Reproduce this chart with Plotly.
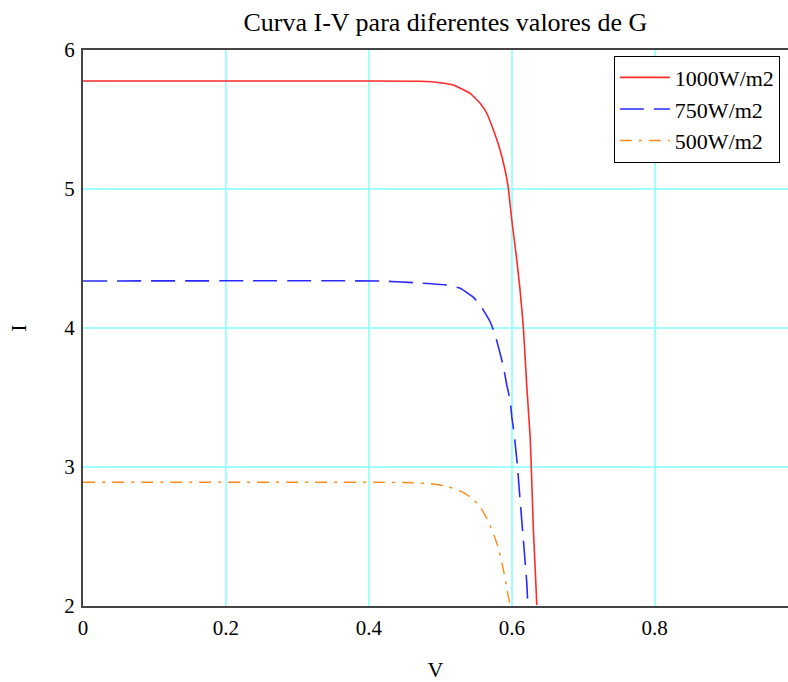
import plotly.graph_objects as go

# Curve readings (V in volts, I in amps)
v_1000 = [0.0, 0.40, 0.4717, 0.4997, 0.5183, 0.5417, 0.5557, 0.5650, 0.5743, 0.5836,
          0.5906, 0.5952, 0.6000, 0.6070, 0.6116, 0.6162, 0.6210, 0.6258, 0.6285,
          0.6302, 0.6326, 0.6350]
i_1000 = [5.777, 5.777, 5.775, 5.765, 5.748, 5.688, 5.617, 5.545, 5.424, 5.281,
          5.137, 5.005, 4.777, 4.489, 4.273, 4.002, 3.578, 3.206, 2.811,
          2.547, 2.283, 2.007]

v_750 = [0.0, 0.4158, 0.4624, 0.5091, 0.5277, 0.5463, 0.5557, 0.5697, 0.5767, 0.5836,
         0.5883, 0.5930, 0.5976, 0.6000, 0.6032, 0.6078, 0.6116, 0.6162, 0.6210, 0.6224]
i_750 = [4.338, 4.338, 4.326, 4.309, 4.286, 4.221, 4.165, 4.045, 3.950, 3.818,
         3.722, 3.590, 3.482, 3.362, 3.242, 3.014, 2.763, 2.475, 2.163, 2.007]

v_500 = [0.0, 0.4158, 0.4624, 0.4903, 0.5113, 0.5301, 0.5441, 0.5557, 0.5673, 0.5767,
         0.5822, 0.5883, 0.5920, 0.5967, 0.5986]
i_500 = [2.890, 2.890, 2.887, 2.878, 2.858, 2.822, 2.775, 2.714, 2.607, 2.487,
         2.398, 2.259, 2.158, 2.031, 2.002]

names = ["1000W/m2", "750W/m2", "500W/m2"]
x_ticks = [0, 0.2, 0.4, 0.6, 0.8]
x_tick_text = ["0", "0.2", "0.4", "0.6", "0.8"]
y_ticks = [2, 3, 4, 5, 6]

FONT = "Liberation Serif, Times New Roman, serif"

fig = go.Figure()
fig.add_trace(go.Scatter(x=v_1000, y=i_1000, mode="lines", name=names[0], legendgroup="a",
                         line=dict(color="#ff2a2a", width=1.6, shape="spline", smoothing=0.4)))
fig.add_trace(go.Scatter(x=v_750, y=i_750, mode="lines", name=names[1], legendgroup="b",
                         line=dict(color="#2a2aff", width=1.6, dash="24px,10px", shape="spline", smoothing=0.4)))
fig.add_trace(go.Scatter(x=v_500, y=i_500, mode="lines", name=names[2], legendgroup="c",
                         line=dict(color="#ff8c1a", width=1.4, dash="12px,7px,3px,7px", shape="spline", smoothing=0.4)))

fig.update_layout(
    width=788, height=682,
    margin=dict(l=83, r=0, t=50, b=76, autoexpand=False),
    paper_bgcolor="white", plot_bgcolor="white",
    font=dict(family=FONT, size=21, color="black"),
    title=dict(text="Curva I-V para diferentes valores de G", x=0.514, xref="paper",
               y=0.968, yref="container", xanchor="center", yanchor="middle",
               font=dict(family=FONT, size=26, color="black")),
    showlegend=True,
    legend=dict(x=0.753, y=0.99, xanchor="left", yanchor="top",
                bgcolor="white", bordercolor="black", borderwidth=1,
                font=dict(family=FONT, size=22, color="black"),
                tracegroupgap=0, traceorder="grouped", itemwidth=50),
    xaxis=dict(range=[0, 0.9865], tickvals=x_ticks, ticktext=x_tick_text,
               showgrid=True, gridcolor="#a0ffff", gridwidth=1.5,
               showline=True, linecolor="#444444", linewidth=2, mirror=True,
               ticks="outside", ticklen=2, tickcolor="rgba(0,0,0,0)",
               zeroline=False, automargin=False,
               title=dict(text="V", standoff=24, font=dict(family=FONT, size=22))),
    yaxis=dict(range=[2, 6], tickvals=y_ticks,
               showgrid=True, gridcolor="#a0ffff", gridwidth=1.5,
               showline=True, linecolor="#444444", linewidth=2, mirror=False,
               ticks="outside", ticklen=2, tickcolor="rgba(0,0,0,0)",
               zeroline=False, automargin=False,
               title=dict(text="I", standoff=32, font=dict(family=FONT, size=22))),
)

fig.write_html(
    "out.html",
    config={"displayModeBar": False},
    post_script="document.body.style.margin='0px';document.documentElement.style.overflow='hidden';",
)
